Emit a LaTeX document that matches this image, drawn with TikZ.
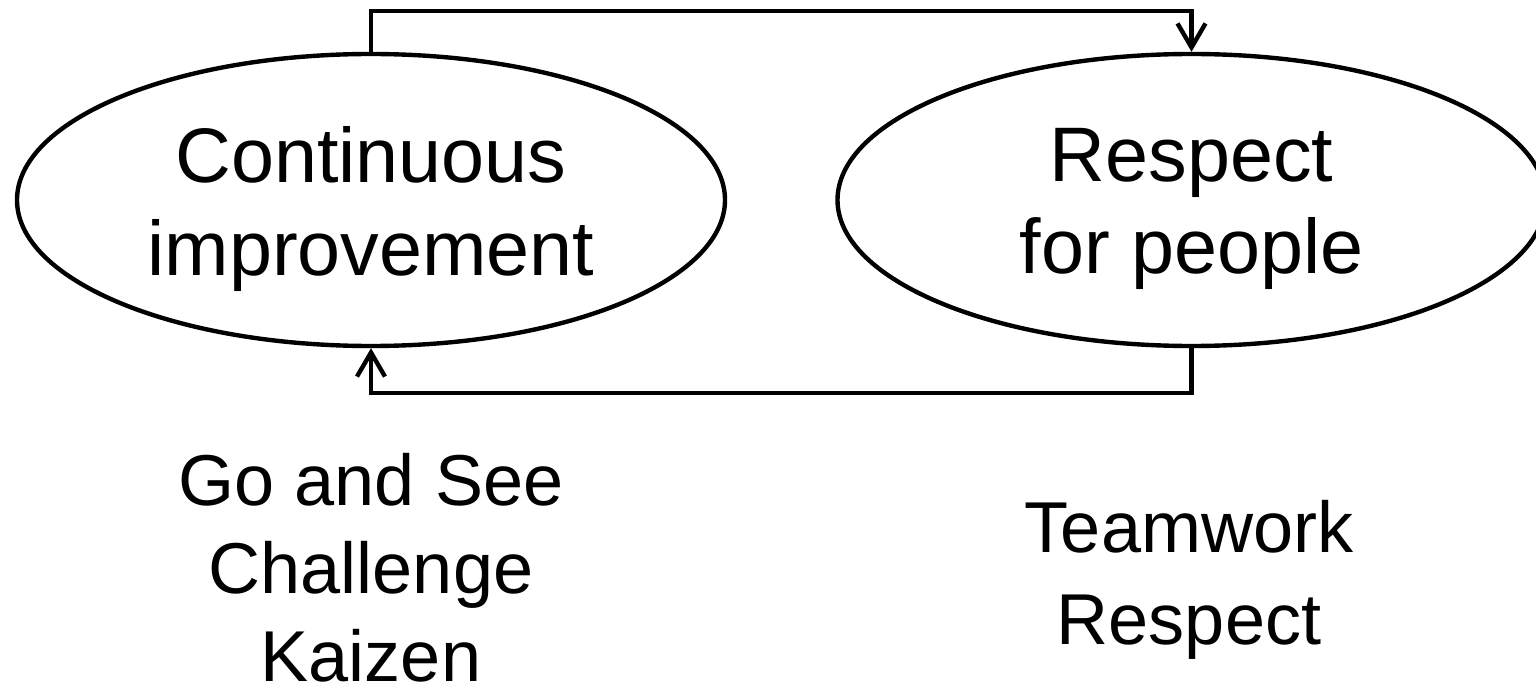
\documentclass[tikz,border=0pt]{standalone}
\usepackage{fontspec}
\setmainfont{Liberation Sans}
\usetikzlibrary{shapes.geometric, arrows.meta}
\tikzset{
    every node/.style={inner sep=0pt, align=center},
    oval/.style={ellipse, draw, line width=2.5pt, minimum width=14.16cm,
    	minimum height=5.84cm},
    big/.style={font=\fontsize{44pt}{52.4pt}\selectfont},
    words/.style={font=\fontsize{41pt}{50pt}\selectfont},
    link/.style={line width=2.5pt, -{Straight Barb[length=0.48cm,width=0.56cm]}}
}

\begin{document}
\begin{tikzpicture}
	\useasboundingbox (0cm,0cm) rectangle (30.72cm,13.76cm);
	\node [oval] (ci) at (7.42cm,9.76cm) {};
	\node [oval] (rp) at (23.83cm,9.76cm) {};
	\node [big, yshift=-0.18cm] (citext) at (ci) {Continuous\\improvement};
	\node [big, yshift=-0.18cm] (rptext) at (rp) {Respect\\for people};
	\node [words] (gs) at (7.42cm,2.41cm) {Go and See\\Challenge\\Kaizen};
	\node [words, font=\fontsize{41pt}{52.4pt}\selectfont] (tr) at (23.78cm,2.16cm) {Teamwork\\Respect};
	\coordinate (up) at (0cm,13.54cm);
	\coordinate (down) at (0cm,5.9cm);
	\draw [link] (ci.north) -- (ci.north |- up) -| (rp.north);
	\draw [link] (rp.south) -- (rp.south |- down) -| (ci.south);
\end{tikzpicture}
\end{document}
